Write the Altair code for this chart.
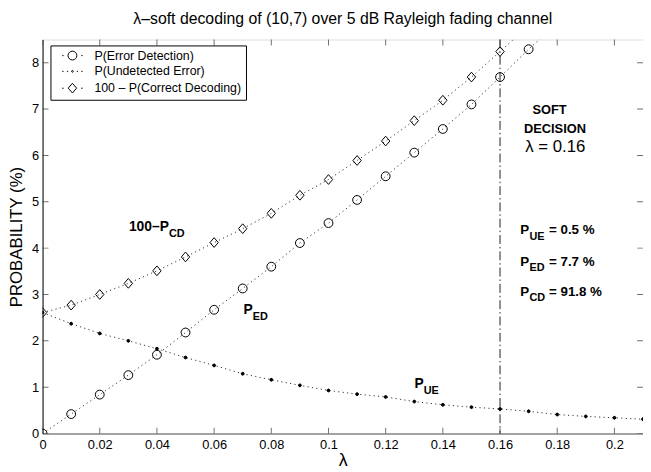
import altair as alt
import pandas as pd

# ---------------- data ----------------
SER_ED = "P(Error Detection)"
SER_UE = "P(Undetected Error)"
SER_CD = "100 – P(Correct Decoding)"
series_order = [SER_ED, SER_UE, SER_CD]

lam_ed = [0.00, 0.01, 0.02, 0.03, 0.04, 0.05, 0.06, 0.07, 0.08, 0.09,
          0.10, 0.11, 0.12, 0.13, 0.14, 0.15, 0.16, 0.17, 0.18]
p_ed = [0.00, 0.42, 0.84, 1.26, 1.70, 2.18, 2.67, 3.13, 3.60, 4.11,
        4.54, 5.04, 5.55, 6.06, 6.57, 7.10, 7.69, 8.29, 8.85]

lam_ue = [0.00, 0.01, 0.02, 0.03, 0.04, 0.05, 0.06, 0.07, 0.08, 0.09, 0.10,
          0.11, 0.12, 0.13, 0.14, 0.15, 0.16, 0.17, 0.18, 0.19, 0.20, 0.21]
p_ue = [2.61, 2.37, 2.16, 2.00, 1.83, 1.64, 1.47, 1.29, 1.16, 1.04, 0.93,
        0.85, 0.79, 0.69, 0.62, 0.57, 0.53, 0.48, 0.41, 0.37, 0.34, 0.31]

lam_cd = [0.00, 0.01, 0.02, 0.03, 0.04, 0.05, 0.06, 0.07, 0.08, 0.09,
          0.10, 0.11, 0.12, 0.13, 0.14, 0.15, 0.16, 0.17]
p_cd = [2.61, 2.77, 3.00, 3.24, 3.51, 3.81, 4.12, 4.42, 4.75, 5.14,
        5.48, 5.89, 6.31, 6.75, 7.19, 7.69, 8.24, 8.80]

x_ticks = [0, 0.02, 0.04, 0.06, 0.08, 0.1, 0.12, 0.14, 0.16, 0.18, 0.2]
y_ticks = [0, 1, 2, 3, 4, 5, 6, 7, 8]
x_domain = [0, 0.21]
y_domain = [0, 8.5]

soft_lambda = 0.16

# annotations (text, position in data units)
ann_left_main = ["100–P", "P", "P"]
ann_left_sub = ["CD", "ED", "UE"]
ann_left_x = [0.0302, 0.0703, 0.1301]
ann_left_y = [4.45, 2.67, 1.06]

ann_right_sub = ["UE", "ED", "CD"]
ann_right_rest = ["= 0.5 %", "= 7.7 %", "= 91.8 %"]
ann_right_x = [0.1671, 0.1671, 0.1671]
ann_right_y = [4.38, 3.70, 3.06]

soft_text = ["SOFT", "DECISION"]
soft_x = [0.1773, 0.1792]
soft_y = [6.97, 6.57]
lam_text = "λ = 0.16"
lam_text_pos = (0.1793, 6.18)

FONT = "Liberation Sans"

# marker shapes (unit-square SVG paths)
CIRCLE = "M-1,0A1,1,0,1,1,1,0A1,1,0,1,1,-1,0Z"
DOT = "M-0.33,0A0.33,0.33,0,1,1,0.33,0A0.33,0.33,0,1,1,-0.33,0Z"
DIAMOND = "M0,-1.1L0.95,0L0,1.1L-0.95,0Z"
# legend symbols (stroked only): marker plus a few dots of the dotted line
SIDE = "M-2.2,-0.05h0.1v0.1h-0.1ZM2.1,-0.05h0.1v0.1h-0.1Z"
SIDE2 = "M-1.15,-0.05h0.1v0.1h-0.1ZM1.05,-0.05h0.1v0.1h-0.1Z"
LEG_CIRCLE = CIRCLE + SIDE
LEG_DOT = "M-0.2,0A0.2,0.2,0,1,1,0.2,0A0.2,0.2,0,1,1,-0.2,0Z" + SIDE + SIDE2
LEG_DIAMOND = DIAMOND + SIDE

# ---------------- tables ----------------
df = pd.concat([
    pd.DataFrame({"lam": lam_ed, "val": p_ed, "series": SER_ED}),
    pd.DataFrame({"lam": lam_ue, "val": p_ue, "series": SER_UE}),
    pd.DataFrame({"lam": lam_cd, "val": p_cd, "series": SER_CD}),
], ignore_index=True)
df["legend_series"] = df["series"]

x_enc = alt.X("lam:Q",
              scale=alt.Scale(domain=x_domain, nice=False, zero=False),
              axis=alt.Axis(values=x_ticks, labelExpr="format(datum.value, '~g')",
                            tickSize=0, labelPadding=5, labelFontSize=13,
                            title="λ", titleFontSize=18, titleFontWeight="normal",
                            titlePadding=0, domainColor="#888888", domainWidth=1.5,
                            grid=False, labelFlush=False))
y_enc = alt.Y("val:Q",
              scale=alt.Scale(domain=y_domain, nice=False, zero=False),
              axis=alt.Axis(values=y_ticks, tickSize=0, labelPadding=4, labelFontSize=13,
                            title="PROBABILITY (%)", titleFontSize=17, titleFontWeight="normal",
                            titlePadding=6, domainColor="black", grid=False))

lines = alt.Chart(df).mark_line(clip=True, strokeDash=[1.2, 3.3], strokeWidth=1,
                                color="#333333").encode(
    x=x_enc, y=y_enc, detail="series:N")

points = alt.Chart(df).mark_point(clip=True, opacity=1, strokeWidth=1, size=80,
                                  stroke="black").encode(
    x=x_enc, y=y_enc,
    shape=alt.Shape("series:N", scale=alt.Scale(domain=series_order,
                                                range=[CIRCLE, DOT, DIAMOND]),
                    legend=None),
    fill=alt.Fill("series:N", scale=alt.Scale(domain=series_order,
                                              range=["transparent", "black", "transparent"]),
                  legend=None),
)

leg = alt.Legend(orient="none", legendX=8, legendY=6, title=None,
                 strokeColor="black", fillColor="white", padding=4,
                 labelFont=FONT, labelFontSize=12.5, labelColor="black",
                 rowPadding=3, symbolOffset=12, labelOffset=16, symbolSize=80,
                 symbolStrokeColor="black", symbolStrokeWidth=1,
                 symbolFillColor="transparent")

legend_layer = alt.Chart(df).transform_filter("false").mark_point(
    filled=False, opacity=1, strokeWidth=1, size=80, color="black").encode(
    x=x_enc, y=y_enc,
    shape=alt.Shape("legend_series:N", scale=alt.Scale(domain=series_order,
                                                       range=[LEG_CIRCLE, LEG_DOT, LEG_DIAMOND]),
                    legend=leg),
)

# vertical dash-dot line at the chosen lambda
vline = alt.Chart(pd.DataFrame({"lam": [soft_lambda]})).mark_rule(
    strokeDash=[9, 3, 1.5, 3], strokeWidth=1, color="#222222").encode(x=x_enc)

# inward ticks on all four sides
tick_style = dict(clip=True, size=12, thickness=1, color="#333333")
bx = alt.Chart(pd.DataFrame({"lam": x_ticks, "val": y_domain[0]})).mark_tick(
    orient="vertical", **tick_style).encode(x=x_enc, y=y_enc)
tx = alt.Chart(pd.DataFrame({"lam": x_ticks, "val": y_domain[1]})).mark_tick(
    orient="vertical", **tick_style).encode(x=x_enc, y=y_enc)
ly = alt.Chart(pd.DataFrame({"lam": x_domain[0], "val": y_ticks})).mark_tick(
    orient="horizontal", **tick_style).encode(x=x_enc, y=y_enc)
ry = alt.Chart(pd.DataFrame({"lam": x_domain[1], "val": y_ticks})).mark_tick(
    orient="horizontal", **tick_style).encode(x=x_enc, y=y_enc)

# annotations
bold = dict(font=FONT, fontWeight="bold", color="black", baseline="middle", align="left")
left_df = pd.DataFrame({"lam": ann_left_x, "val": ann_left_y,
                        "main": ann_left_main, "sub": ann_left_sub})
t_left_main = alt.Chart(left_df).mark_text(fontSize=14, **bold).encode(
    x=x_enc, y=y_enc, text="main:N")
t_left_sub_cd = alt.Chart(left_df.iloc[[0]]).mark_text(fontSize=11, dx=40.5, dy=6.5, **bold).encode(
    x=x_enc, y=y_enc, text="sub:N")
t_left_sub_p = alt.Chart(left_df.iloc[1:]).mark_text(fontSize=11, dx=9.3, dy=7, **bold).encode(
    x=x_enc, y=y_enc, text="sub:N")

right_df = pd.DataFrame({"lam": ann_right_x, "val": ann_right_y,
                         "sub": ann_right_sub, "rest": ann_right_rest, "p": "P"})
t_right_p = alt.Chart(right_df).mark_text(fontSize=13.5, **bold).encode(
    x=x_enc, y=y_enc, text="p:N")
t_right_sub = alt.Chart(right_df).mark_text(fontSize=11, dx=9.3, dy=6.5, **bold).encode(
    x=x_enc, y=y_enc, text="sub:N")
t_right_rest = alt.Chart(right_df).mark_text(fontSize=13.5, dx=29, **bold).encode(
    x=x_enc, y=y_enc, text="rest:N")

soft_df = pd.DataFrame({"lam": soft_x, "val": soft_y, "t": soft_text})
t_soft = alt.Chart(soft_df).mark_text(fontSize=13, font=FONT, fontWeight="bold",
                                      color="black", baseline="middle", align="center").encode(
    x=x_enc, y=y_enc, text="t:N")
lam_df = pd.DataFrame({"lam": [lam_text_pos[0]], "val": [lam_text_pos[1]], "t": [lam_text]})
t_lam = alt.Chart(lam_df).mark_text(fontSize=17, font=FONT, color="black",
                                    baseline="middle", align="center").encode(
    x=x_enc, y=y_enc, text="t:N")

chart = alt.layer(
    lines, vline, bx, tx, ly, ry, points, legend_layer,
    t_left_main, t_left_sub_cd, t_left_sub_p,
    t_right_p, t_right_sub, t_right_rest, t_soft, t_lam,
).resolve_scale(
    shape="independent", fill="independent"
).properties(
    width=608, height=399,
    title=alt.TitleParams("λ–soft decoding of (10,7) over 5 dB Rayleigh fading channel",
                          fontSize=16, fontWeight="normal", font=FONT, color="black",
                          offset=12, anchor="middle"),
    padding={"left": 35, "top": 29, "right": 0, "bottom": 35},
    autosize=alt.AutoSizeParams(type="none"),
).configure_view(
    stroke="black", strokeWidth=1
).configure_axis(
    labelFont=FONT, titleFont=FONT, labelColor="black", titleColor="black"
).configure(background="white")

chart.save("out.html", embed_options={"renderer": "svg", "actions": False})
